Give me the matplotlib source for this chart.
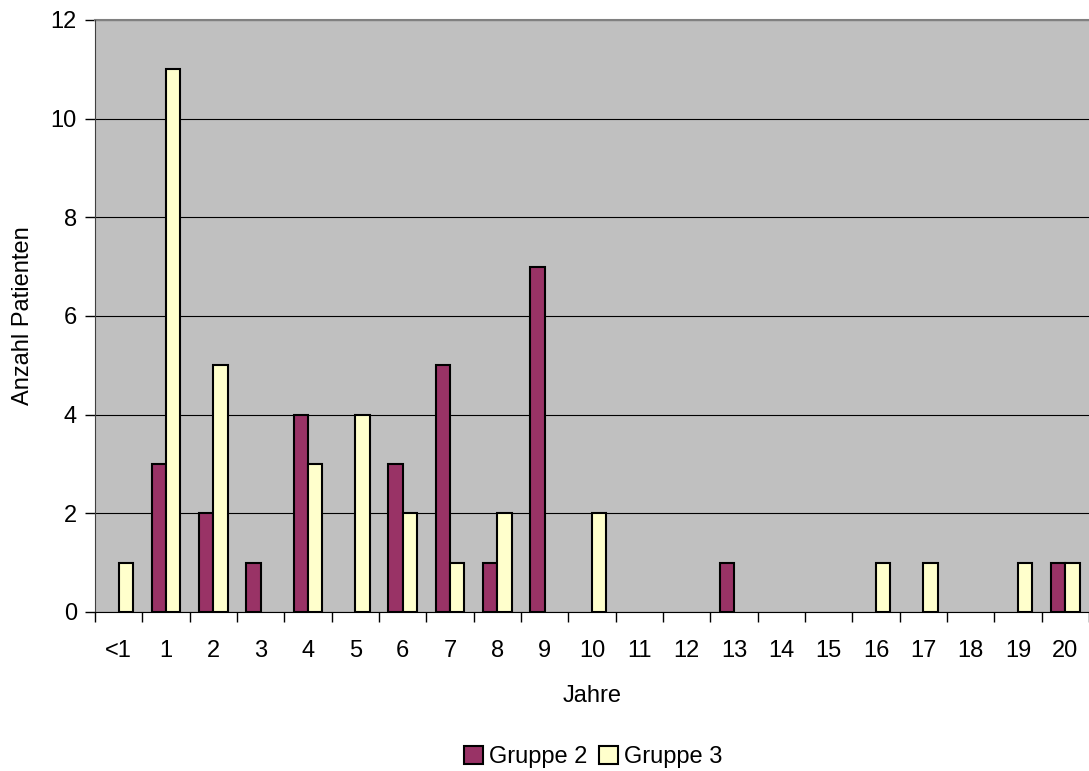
import matplotlib
matplotlib.use("Agg")
import matplotlib.pyplot as plt
import numpy as np
from matplotlib.patches import Patch

plt.rcParams['font.family'] = ['Liberation Sans', 'DejaVu Sans']

categories = ['<1', '1', '2', '3', '4', '5', '6', '7', '8', '9', '10',
              '11', '12', '13', '14', '15', '16', '17', '18', '19', '20']
gruppe2 = [0, 3, 2, 1, 4, 0, 3, 5, 1, 7, 0, 0, 0, 1, 0, 0, 0, 0, 0, 0, 1]
gruppe3 = [1, 11, 5, 0, 3, 4, 2, 1, 2, 0, 2, 0, 0, 0, 0, 0, 1, 1, 0, 1, 1]

col2 = '#993366'
col3 = '#FFFFCC'
fs = 17

fig = plt.figure(figsize=(10.89, 7.71), dpi=100)
ax = fig.add_axes([95 / 1089, 159 / 771, 994 / 1089, 592 / 771])
ax.set_facecolor('#C0C0C0')

x = np.arange(len(categories))
w = 0.3
v2 = np.array(gruppe2)
v3 = np.array(gruppe3)
# empty categories get no bar outline
m2 = v2 > 0
m3 = v3 > 0
ax.bar(x[m2] - w / 2, v2[m2], width=w, color=col2, edgecolor='black', linewidth=1.5, zorder=3)
ax.bar(x[m3] + w / 2, v3[m3], width=w, color=col3, edgecolor='black', linewidth=1.5, zorder=3)

ax.set_xlim(-0.5, len(categories) - 0.5)
ax.set_ylim(0, 12)
ax.set_yticks(range(0, 13, 2))
ax.yaxis.grid(True, color='black', linewidth=0.8, zorder=1)
ax.set_axisbelow(True)

ax.set_xticks(np.arange(-0.5, len(categories) - 0.5 + 0.01, 1))
ax.set_xticklabels([])
ax.set_xticks(x, minor=True)
ax.set_xticklabels(categories, minor=True, fontsize=fs)
ax.tick_params(axis='x', which='major', length=7, width=1, direction='out', color='black')
ax.tick_params(axis='x', which='minor', length=0, pad=20)
ax.tick_params(axis='y', length=7, width=1, direction='out', labelsize=fs, pad=6)

for s in ['top', 'right']:
    ax.spines[s].set_visible(False)
ax.spines['left'].set_color('#404040')
ax.spines['bottom'].set_color('black')
ax.axhline(12, color='#808080', linewidth=1.5, zorder=2, clip_on=False)

ax.set_xlabel('Jahre', fontsize=fs, labelpad=17)
ax.set_ylabel('Anzahl Patienten', fontsize=fs, labelpad=12)

handles = [Patch(facecolor=col2, edgecolor='black', linewidth=1.5, label='Gruppe 2'),
           Patch(facecolor=col3, edgecolor='black', linewidth=1.5, label='Gruppe 3')]
fig.legend(handles=handles, loc='center', bbox_to_anchor=(0.545, 14 / 771), ncol=2,
           frameon=False, fontsize=fs, handlelength=0.8, handleheight=0.8,
           handletextpad=0.25, columnspacing=0.5)

fig.savefig('out.png', dpi=100)
